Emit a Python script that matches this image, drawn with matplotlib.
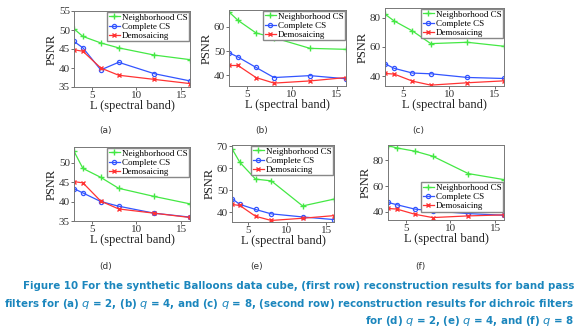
import matplotlib
matplotlib.use("Agg")
import matplotlib.pyplot as plt

L = [3, 4, 6, 8, 12, 16]

# PSNR values per panel: (neighborhood, complete, demosaicing)
nb_a = [50.3, 48.3, 46.6, 45.3, 43.4, 42.2]
cc_a = [47.0, 45.3, 39.5, 41.5, 38.5, 36.6]
dm_a = [44.8, 44.4, 40.0, 38.1, 37.0, 35.9]

nb_b = [66.2, 62.7, 57.5, 55.5, 51.1, 50.7]
cc_b = [49.3, 47.5, 43.2, 39.0, 39.8, 38.5]
dm_b = [44.0, 44.0, 39.0, 36.7, 37.6, 39.0]

nb_c = [82.3, 77.7, 70.9, 62.3, 63.2, 60.5]
cc_c = [48.6, 45.5, 42.3, 41.8, 39.3, 38.6]
dm_c = [42.0, 41.6, 36.8, 34.1, 35.7, 37.0]

nb_d = [52.9, 48.5, 46.2, 43.4, 41.3, 39.4]
cc_d = [43.3, 42.2, 40.0, 38.8, 37.0, 36.0]
dm_d = [45.1, 44.8, 40.1, 38.1, 37.0, 35.9]

nb_e = [68.8, 62.6, 55.0, 54.2, 42.8, 45.9]
cc_e = [46.1, 43.5, 41.2, 39.2, 37.8, 36.6]
dm_e = [43.5, 43.0, 38.1, 36.2, 37.2, 38.4]

nb_f = [91.5, 89.7, 87.2, 83.3, 69.7, 65.0]
cc_f = [47.2, 45.4, 42.0, 40.6, 38.5, 37.2]
dm_f = [42.5, 42.0, 38.0, 35.4, 36.7, 37.5]

panels = [
    ("(a)", nb_a, cc_a, dm_a, (35, 55), [35, 40, 45, 50, 55]),
    ("(b)", nb_b, cc_b, dm_b, (35.5, 67), [40, 50, 60]),
    ("(c)", nb_c, cc_c, dm_c, (33.5, 86.5), [40, 60, 80]),
    ("(d)", nb_d, cc_d, dm_d, (35, 54), [35, 40, 45, 50]),
    ("(e)", nb_e, cc_e, dm_e, (35.5, 70.5), [40, 50, 60, 70]),
    ("(f)", nb_f, cc_f, dm_f, (33.5, 92), [40, 60, 80]),
]

# axes boxes in pixels: left, right, top, bottom
boxes = [(74, 190, 11, 87), (229, 346, 10, 86), (385, 504, 8, 86),
         (74, 190, 147, 221), (232, 334, 145, 222), (388, 504, 145, 220)]

W, H = 580, 331
fig = plt.figure(figsize=(W / 100, H / 100), dpi=100)
serif = "Liberation Serif"

for (lab, nb, cc, dm, ylim, yt), (l, r, t, b) in zip(panels, boxes):
    ax = fig.add_axes([l / W, 1 - b / H, (r - l) / W, (b - t) / H])
    ax.plot(L, nb, color="#44e844", marker="+", ms=4, lw=0.9, label="Neighborhood CS")
    ax.plot(L, cc, color="#3355ff", marker="o", ms=3, mfc="none", mew=0.9, lw=0.9, label="Complete CS")
    ax.plot(L, dm, color="#ff3333", marker="x", ms=3, lw=0.9, label="Demosaicing")
    ax.set_xlim(3, 16)
    ax.set_ylim(*ylim)
    ax.set_xticks([5, 10, 15])
    ax.set_yticks(yt)
    for s in ax.spines.values():
        s.set_color("#777777")
        s.set_linewidth(0.7)
    ax.tick_params(labelsize=8, length=2, width=0.5, colors="#333333", pad=1)
    for tl in ax.get_xticklabels() + ax.get_yticklabels():
        tl.set_family(serif)
    ax.set_xlabel("L (spectral band)", family=serif, fontsize=9, labelpad=0, color="#222222")
    ax.set_ylabel("PSNR", family=serif, fontsize=9, labelpad=1, color="#222222")
    if lab == "(f)":
        lg_kw = dict(loc="lower right", bbox_to_anchor=(1.0, 0.1))
    else:
        lg_kw = dict(loc="upper right")
    ax.legend(prop={"family": serif, "size": 6.5}, frameon=True, fancybox=False,
              edgecolor="#888888", framealpha=1, borderpad=0.15, labelspacing=0.1,
              handlelength=1.3, handletextpad=0.2, borderaxespad=0.1, **lg_kw)
    yl = 130 if lab in ("(a)", "(b)", "(c)") else 267
    fig.text((l + r) / 2 / W - 0.045, 1 - yl / H, lab, fontsize=6.5, ha="center", va="center",
             color="#333333")

cap_color = "#1b86bd"
cap_kw = dict(fontsize=8.2, fontweight="bold", color=cap_color, fontstretch="condensed",
              family="DejaVu Sans")
fig.text(0.99, 1 - 286 / H, "Figure 10 For the synthetic Balloons data cube, (first row) reconstruction results for band pass",
         ha="right", va="center", **cap_kw)
fig.text(0.99, 1 - 304 / H, "filters for (a) $q$ = 2, (b) $q$ = 4, and (c) $q$ = 8, (second row) reconstruction results for dichroic filters",
         ha="right", va="center", **cap_kw)
fig.text(0.99, 1 - 321 / H, "for (d) $q$ = 2, (e) $q$ = 4, and (f) $q$ = 8",
         ha="right", va="center", **cap_kw)

fig.savefig("out.png", dpi=100)
